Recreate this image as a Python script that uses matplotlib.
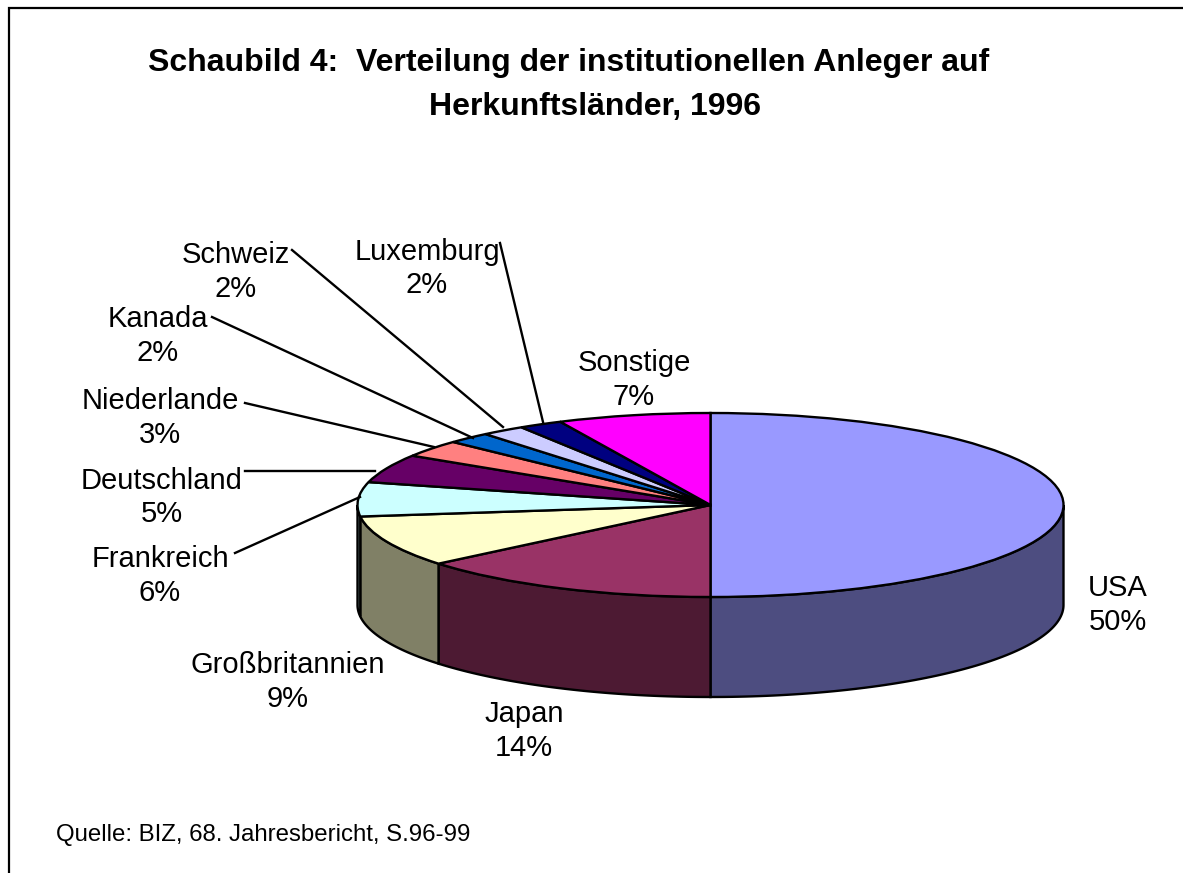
import numpy as np
import matplotlib
matplotlib.use("Agg")
import matplotlib.pyplot as plt
from matplotlib.patches import Polygon
from matplotlib.transforms import Affine2D

plt.rcParams['font.family'] = ['Liberation Sans', 'DejaVu Sans']

# Data
categories = ['USA', 'Japan', 'Großbritannien', 'Frankreich', 'Deutschland',
              'Niederlande', 'Kanada', 'Schweiz', 'Luxemburg', 'Sonstige']
shares = [50, 14, 9, 6, 5, 3, 2, 2, 2, 7]
top_colors = ['#9999FF', '#993366', '#FFFFCC', '#CCFFFF', '#660066',
              '#FF8080', '#0066CC', '#CCCCFF', '#000080', '#FF00FF']
side_colors = ['#4D4D80', '#4D1A33', '#808066', '#668080', '#330033',
               '#804040', '#003366', '#666680', '#000040', '#800080']

# Layout in pixels of the 1183x873 picture
cx, cy = 710.5, 505
rx, ry = 353, 92
depth = 100
lw = 1.7
label_pos = [(1118, 605), (524, 731), (288, 682), (160, 576), (162, 497.5),
             (160, 418), (158, 336), (236, 272), (427, 268.5), (634, 380)]
leaders = {
    'Frankreich': ((235, 553), (360, 497)),
    'Deutschland': ((245, 471), (375, 471)),
    'Niederlande': ((245, 403), (434, 447)),
    'Kanada': ((212, 317), (473, 438)),
    'Schweiz': ((292, 250), (503, 427)),
    'Luxemburg': ((500, 243), (543, 422)),
}

fig = plt.figure(figsize=(11.83, 8.73), dpi=100, facecolor='white')
ax = fig.add_axes([0, 0, 1, 1])

# top face: a normal pie squashed into an ellipse
wedges, _ = ax.pie(shares, colors=top_colors, startangle=90, counterclock=False,
                   wedgeprops={'edgecolor': 'black', 'linewidth': lw, 'zorder': 3})
squash = Affine2D().scale(rx, -ry).translate(cx, cy) + ax.transData
for w in wedges:
    w.set_transform(squash)

ax.set_aspect('auto')
ax.set_xlim(0, 1183)
ax.set_ylim(873, 0)
ax.axis('off')

# side wall, only the part of each slice between right edge and left edge shows
edges = np.cumsum([0] + shares) / sum(shares) * 360
for i in range(len(shares)):
    a0 = max(edges[i], 90)
    a1 = min(edges[i + 1], 270)
    if a1 <= a0:
        continue
    t = np.radians(np.linspace(a0, a1, 80))
    x = cx + rx * np.sin(t)
    y = cy - ry * np.cos(t)
    pts = np.r_[np.c_[x, y], np.c_[x[::-1], y[::-1] + depth]]
    ax.add_patch(Polygon(pts, closed=True, facecolor=side_colors[i],
                         edgecolor='black', linewidth=lw, zorder=2))

for name, share, (lx, ly) in zip(categories, shares, label_pos):
    ax.text(lx, ly, f'{name}\n{share}%', fontsize=21, ha='center', va='center',
            linespacing=1.25, color='black', zorder=5)

for name, (p0, p1) in leaders.items():
    ax.plot([p0[0], p1[0]], [p0[1], p1[1]], color='black', lw=lw, zorder=4)

# the second title line sits off-centre in the original
ax.text(569, 62.5, 'Schaubild 4:  Verteilung der institutionellen Anleger auf',
        fontsize=23.05, fontweight='bold', ha='center', va='center')
ax.text(595.5, 107, 'Herkunftsländer, 1996',
        fontsize=23.05, fontweight='bold', ha='center', va='center')
ax.text(56, 835, 'Quelle: BIZ, 68. Jahresbericht, S.96-99', fontsize=17.3, ha='left', va='center')

# outer frame only on top and left
ax.plot([9, 9, 1183], [873, 8, 8], color='black', lw=1.6, solid_joinstyle='miter', zorder=6)

fig.savefig('out.png', dpi=100)
plt.close(fig)
